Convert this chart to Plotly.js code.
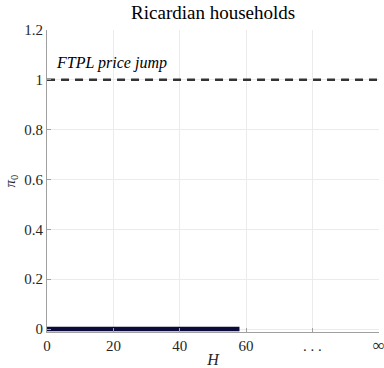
<!DOCTYPE html>
<html>
<head>
<meta charset="utf-8">
<script src="https://cdn.plot.ly/plotly-3.0.1.min.js"></script>
<style>html,body{margin:0;padding:0;background:#fff;}#chart{width:384px;height:368px;}</style>
</head>
<body>
<div id="chart"></div>
<script>
// Ricardian households: pi_0 as a function of horizon H
const horizonH = [0, 58];
const pi0Ricardian = [0, 0];
const ftplH = [0, 100];
const ftplJump = [1, 1];
const xTickVals = [0, 20, 40, 60, 80, 100];
const xTickText = ['0', '20', '40', '60', '. . .', '<span style="font-size:17px">∞</span>'];
const yTickVals = [0, 0.2, 0.4, 0.6, 0.8, 1, 1.2];
const yTickText = ['0', '0.2', '0.4', '0.6', '0.8', '1', '1.2'];

const font = 'Liberation Serif, DejaVu Serif, serif';

const traces = [
  {x: ftplH, y: ftplJump, mode: 'lines', line: {color: '#333333', width: 2.5, dash: '8px,6px'}, hoverinfo: 'none'},
  {x: horizonH, y: pi0Ricardian, mode: 'lines', line: {color: '#0b0b3b', width: 4.5}, hoverinfo: 'none'}
];

const layout = {
  width: 384, height: 368,
  margin: {l: 47, r: 5, t: 30, b: 36},
  paper_bgcolor: '#ffffff', plot_bgcolor: '#ffffff',
  showlegend: false,
  font: {family: font, color: '#262626', size: 13},
  title: {text: 'Ricardian households', font: {family: font, size: 19, color: '#000'}, x: 0.555, xanchor: 'center', y: 0.985, yanchor: 'top'},
  xaxis: {
    range: [-0.01, 100.05], tickvals: xTickVals, ticktext: xTickText,
    showgrid: true, gridcolor: '#ebebeb', gridwidth: 1,
    showline: true, linecolor: '#a0a0a0', linewidth: 1,
    ticks: 'inside', ticklen: 4, tickcolor: '#a0a0a0',
    ticklabeloverflow: 'allow',
    zeroline: false, tickfont: {family: font, size: 15, color: '#262626'},
    title: {text: '<i>H</i>', font: {family: font, size: 16, color: '#262626'}, standoff: 2}
  },
  yaxis: {
    range: [-0.012, 1.2], tickvals: yTickVals, ticktext: yTickText,
    showgrid: true, gridcolor: '#ebebeb', gridwidth: 1,
    showline: true, linecolor: '#a0a0a0', linewidth: 1,
    ticks: 'inside', ticklen: 4, tickcolor: '#a0a0a0',
    zeroline: false, tickfont: {family: font, size: 15, color: '#262626'},
    title: {text: '<i>π</i><sub>0</sub>', font: {family: font, size: 15, color: '#262626'}, standoff: 5}
  },
  annotations: [{
    x: 2, y: 1.025, xref: 'x', yref: 'y', xanchor: 'left', yanchor: 'bottom',
    text: '<i>FTPL price jump</i>', showarrow: false,
    font: {family: font, size: 16, color: '#000'}
  }]
};

Plotly.newPlot('chart', traces, layout, {displayModeBar: false, staticPlot: true});
</script>
</body>
</html>
